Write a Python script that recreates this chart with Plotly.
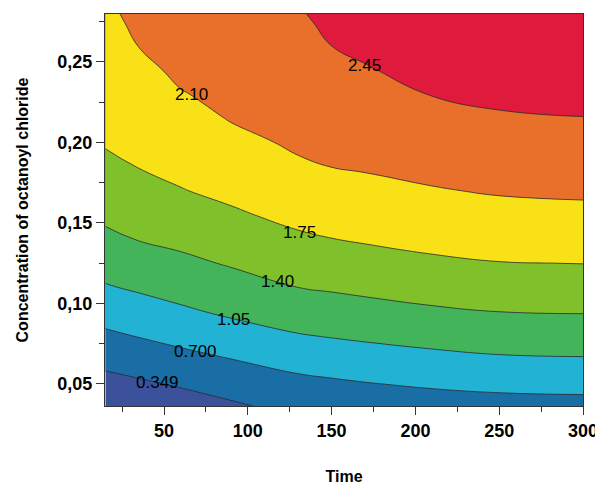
import plotly.graph_objects as go

# ---- data (estimated) ----
time_vals = [15, 35, 60, 90, 130, 150, 170, 210, 250, 300]
conc_vals = [0.035, 0.05, 0.065, 0.08, 0.095, 0.11, 0.125, 0.14, 0.155, 0.17,
             0.185, 0.20, 0.215, 0.23, 0.245, 0.26, 0.275, 0.29]

# response values, one list per concentration row (columns follow time_vals)
z_rows = [
    [0.038, 0.093, 0.173, 0.284, 0.433, 0.461, 0.483, 0.517, 0.553, 0.570],
    [0.240, 0.301, 0.384, 0.488, 0.614, 0.649, 0.684, 0.743, 0.783, 0.801],
    [0.442, 0.508, 0.596, 0.692, 0.814, 0.856, 0.896, 0.958, 1.006, 1.023],
    [0.644, 0.714, 0.801, 0.906, 1.031, 1.069, 1.103, 1.162, 1.207, 1.223],
    [0.835, 0.907, 1.001, 1.104, 1.217, 1.255, 1.292, 1.357, 1.402, 1.417],
    [1.024, 1.092, 1.171, 1.268, 1.400, 1.434, 1.468, 1.531, 1.572, 1.586],
    [1.180, 1.254, 1.331, 1.427, 1.551, 1.590, 1.629, 1.699, 1.741, 1.754],
    [1.331, 1.412, 1.474, 1.567, 1.702, 1.745, 1.780, 1.835, 1.873, 1.890],
    [1.461, 1.529, 1.605, 1.706, 1.830, 1.866, 1.900, 1.958, 2.003, 2.026],
    [1.573, 1.646, 1.736, 1.821, 1.947, 1.985, 2.021, 2.080, 2.125, 2.146],
    [1.686, 1.757, 1.827, 1.925, 2.065, 2.103, 2.126, 2.180, 2.225, 2.245],
    [1.772, 1.827, 1.914, 2.028, 2.139, 2.172, 2.204, 2.274, 2.324, 2.345],
    [1.823, 1.896, 2.000, 2.115, 2.194, 2.242, 2.281, 2.369, 2.424, 2.445],
    [1.874, 1.966, 2.086, 2.164, 2.249, 2.311, 2.358, 2.458, 2.500, 2.514],
    [1.925, 2.035, 2.150, 2.213, 2.304, 2.381, 2.435, 2.518, 2.567, 2.581],
    [1.976, 2.104, 2.210, 2.262, 2.359, 2.450, 2.492, 2.578, 2.635, 2.649],
    [2.027, 2.156, 2.270, 2.311, 2.415, 2.495, 2.545, 2.638, 2.702, 2.716],
    [2.078, 2.209, 2.330, 2.360, 2.464, 2.540, 2.597, 2.698, 2.770, 2.784],
]

level_labels = ["0.349", "0.700", "1.05", "1.40", "1.75", "2.10", "2.45"]
label_time = [46.4, 69.0, 91.7, 117.9, 131.0, 66.7, 169.6]
label_conc = [0.0507, 0.0699, 0.0898, 0.1134, 0.1438, 0.2295, 0.2481]

x_ticks = [50, 100, 150, 200, 250, 300]
y_ticks = [0.05, 0.10, 0.15, 0.20, 0.25]

# ---- styling ----
band_colors = ["#3c519c", "#1a6ea6", "#22b2d4", "#44b45a",
               "#80c02a", "#f8e117", "#e8702a", "#e01a3c"]
n_steps = len(band_colors) - 1
colorscale = []
for j, c in enumerate(band_colors):
    lo = max(0.0, (j - 0.5) / n_steps)
    hi = min(1.0, (j + 0.5) / n_steps)
    colorscale.append([lo, c])
    colorscale.append([hi, c])

start = float(level_labels[0])
end = float(level_labels[-1])
size = (end - start) / (len(level_labels) - 1)

fig = go.Figure()
fig.add_trace(go.Contour(
    x=time_vals, y=conc_vals, z=z_rows,
    colorscale=colorscale,
    showscale=False,
    contours=dict(start=start, end=end, size=size, coloring="fill", showlabels=False),
    line=dict(color="#2a2a2a", width=0.8, smoothing=1.3),
    hoverinfo="skip",
))

for txt, lx, ly in zip(level_labels, label_time, label_conc):
    fig.add_annotation(x=lx, y=ly, text=txt, showarrow=False,
                       font=dict(family="Liberation Sans, Arial", size=17, color="black"),
                       xanchor="center", yanchor="middle")

fig.update_layout(
    width=595, height=477,
    margin=dict(l=97, r=20, t=6, b=79),
    paper_bgcolor="white", plot_bgcolor="white",
    separators=", ",
    font=dict(family="Liberation Sans, Arial", color="black"),
    showlegend=False,
)
fig.update_xaxes(
    range=[14.8, 300], tickvals=x_ticks, tickformat="d",
    ticks="outside", ticklen=8, tickwidth=1, tickcolor="#333",
    minor=dict(ticks="outside", ticklen=5, dtick=25, tick0=0, tickcolor="#333"),
    showline=True, mirror=True, linecolor="#333", linewidth=1,
    showgrid=False, zeroline=False, automargin=False,
    tickfont=dict(size=18, weight="bold"),
    title=dict(text="Time", font=dict(size=16, weight="bold"), standoff=33),
)
fig.update_yaxes(
    range=[0.0363, 0.2798], tickvals=y_ticks, tickformat=".2f",
    ticks="outside", ticklen=8, tickwidth=1, tickcolor="#333",
    minor=dict(ticks="outside", ticklen=5, dtick=0.025, tick0=0, tickcolor="#333"),
    showline=True, mirror=True, linecolor="#333", linewidth=1,
    showgrid=False, zeroline=False, automargin=False,
    tickfont=dict(size=18, weight="bold"),
    title=dict(text="Concentration of octanoyl chloride", font=dict(size=16, weight="bold"), standoff=24),
)

fig.write_html("out.html")
